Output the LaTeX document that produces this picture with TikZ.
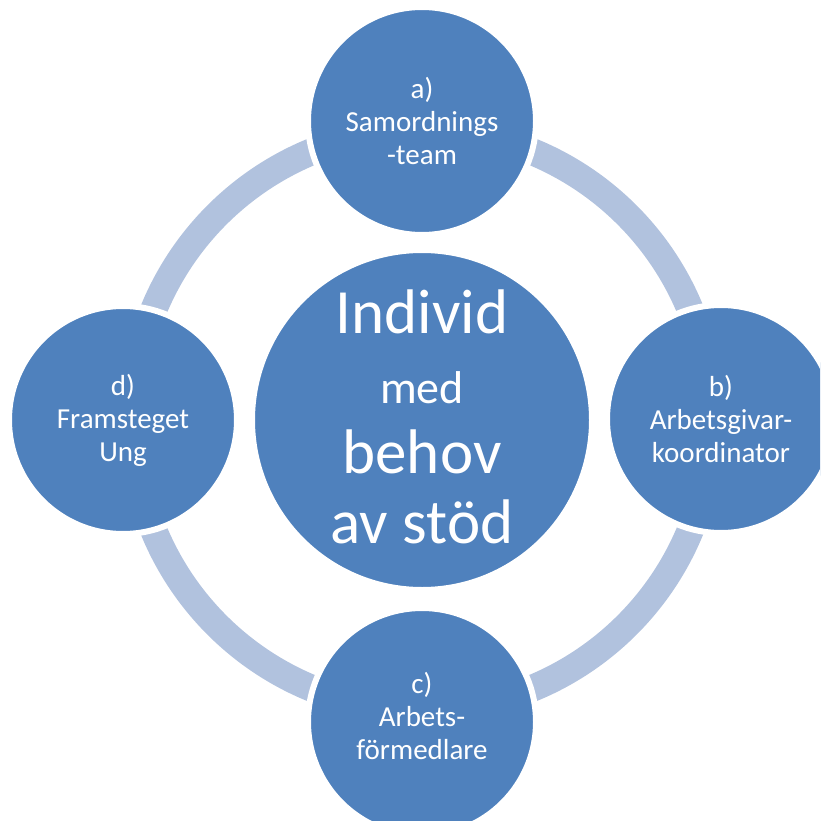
\documentclass[tikz,border=0pt]{standalone}
\usepackage{fontspec}
\setmainfont{Carlito}
\usepackage{tikz}

\definecolor{cirkelblue}{RGB}{79,129,189}
\definecolor{ringblue}{RGB}{177,194,222}

\begin{document}
\begin{tikzpicture}[x=1pt,y=-1pt]
                \clip (0,0) rectangle (820,821);
                \useasboundingbox (0,0) rectangle (820,821);

                \coordinate (mid) at (422,420);
                \draw[ringblue,line width=27pt] (mid) circle[radius=290];

                \begin{scope}[every node/.style={circle,fill=cirkelblue,draw=white,line width=6pt,
                        text=white,align=center,minimum size=228pt,inner sep=0pt,
                        font=\fontsize{29}{33}\selectfont}]
                \node (a) at (422,121) {a)\\Samordnings\\-team};
                \node (b) at (721,419) {b)\\Arbetsgivar-\\koordinator};
                \node[text depth=12pt] (c) at (422,722) {c)\\Arbets-\\förmedlare};
                \node (d) at (123,420) {d)\\Framsteget\\Ung};
                \node[minimum size=340pt,text depth=6pt,font=\fontsize{63}{70}\selectfont] (individ) at (mid)
                        {Individ\\{\fontsize{46}{70}\selectfont med}\\behov\\av stöd};
                \end{scope}
\end{tikzpicture}
\end{document}
